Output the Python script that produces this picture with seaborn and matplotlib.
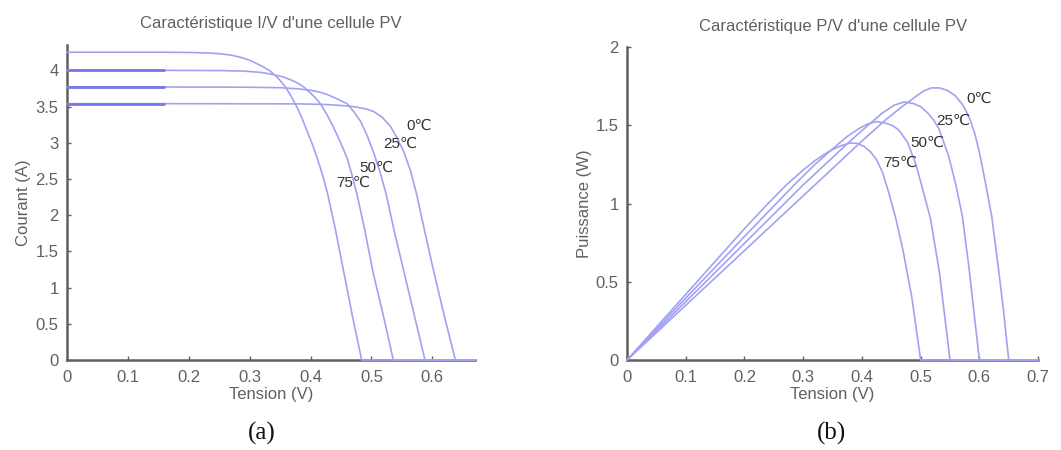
"""
Caracteristiques I/V et P/V d'une cellule PV pour 4 temperatures.
Valeurs relevees a la main sur la figure de reference.
"""

import matplotlib
matplotlib.use("Agg")
import matplotlib.pyplot as plt
import seaborn as sns

# ------------------------------------------------------------
# Donnees (a) : courant en fonction de la tension
# ------------------------------------------------------------
temperatures = ["0℃", "25℃", "50℃", "75℃"]

iv_v_0 = [0, 0.16, 0.38, 0.42, 0.45, 0.47, 0.48, 0.492, 0.504, 0.518, 0.531, 0.542, 0.553,
          0.564, 0.574, 0.587, 0.603, 0.62, 0.638, 0.67]
iv_i_0 = [3.54, 3.54, 3.537, 3.53, 3.515, 3.50, 3.485, 3.465, 3.43, 3.35, 3.23, 3.07, 2.88,
          2.62, 2.3, 1.8, 1.2, 0.6, 0, 0]

iv_v_25 = [0, 0.16, 0.30, 0.35, 0.38, 0.40, 0.415, 0.428, 0.44, 0.45, 0.46, 0.471, 0.482,
           0.493, 0.503, 0.514, 0.524, 0.537, 0.554, 0.571, 0.588, 0.67]
iv_i_25 = [3.77, 3.77, 3.767, 3.76, 3.745, 3.725, 3.70, 3.665, 3.62, 3.58, 3.54, 3.43, 3.30,
           3.10, 2.88, 2.6, 2.3, 1.8, 1.2, 0.6, 0, 0]

iv_v_50 = [0, 0.16, 0.25, 0.29, 0.32, 0.34, 0.355, 0.37, 0.38, 0.389, 0.398, 0.407, 0.416,
           0.427, 0.438, 0.449, 0.46, 0.468, 0.476, 0.489, 0.503, 0.52, 0.536, 0.67]
iv_i_50 = [4.0, 4.0, 3.997, 3.99, 3.97, 3.94, 3.91, 3.86, 3.82, 3.77, 3.70, 3.63, 3.54,
           3.39, 3.21, 3.01, 2.79, 2.56, 2.3, 1.8, 1.2, 0.6, 0, 0]

iv_v_75 = [0, 0.16, 0.20, 0.23, 0.25, 0.27, 0.285, 0.30, 0.31, 0.322, 0.334, 0.347, 0.359,
           0.367, 0.375, 0.385, 0.394, 0.403, 0.411, 0.420, 0.428, 0.441, 0.455, 0.469, 0.484, 0.67]
iv_i_75 = [4.25, 4.25, 4.247, 4.24, 4.23, 4.21, 4.18, 4.14, 4.1, 4.05, 3.99, 3.89, 3.77,
           3.66, 3.54, 3.36, 3.17, 2.98, 2.79, 2.55, 2.3, 1.8, 1.2, 0.6, 0, 0]

# position des etiquettes (tension, courant)
iv_lab_v = [0.578, 0.548, 0.509, 0.471]
iv_lab_i = [3.23, 2.98, 2.65, 2.45]

# ------------------------------------------------------------
# Donnees (b) : puissance en fonction de la tension
# ------------------------------------------------------------
pv_v_0 = [0, 0.1, 0.2, 0.3, 0.4, 0.44, 0.47, 0.49, 0.505, 0.518, 0.532, 0.545, 0.559, 0.571,
          0.582, 0.592, 0.6, 0.611, 0.621, 0.632, 0.641, 0.65, 0.7]
pv_p_0 = [0, 0.35, 0.70, 1.05, 1.40, 1.535, 1.625, 1.68, 1.72, 1.74, 1.74, 1.725, 1.69, 1.635,
          1.56, 1.45, 1.33, 1.12, 0.92, 0.6, 0.32, 0, 0]

pv_v_25 = [0, 0.1, 0.2, 0.3, 0.34, 0.38, 0.41, 0.435, 0.455, 0.472, 0.488, 0.5, 0.512, 0.522,
           0.531, 0.548, 0.56, 0.571, 0.582, 0.6, 0.7]
pv_p_25 = [0, 0.373, 0.746, 1.12, 1.26, 1.40, 1.50, 1.58, 1.63, 1.65, 1.64, 1.62, 1.58, 1.535,
           1.48, 1.3, 1.12, 0.92, 0.6, 0, 0]

pv_v_50 = [0, 0.1, 0.2, 0.25, 0.29, 0.32, 0.35, 0.375, 0.395, 0.41, 0.425, 0.44, 0.452, 0.463,
           0.478, 0.492, 0.505, 0.517, 0.532, 0.55, 0.7]
pv_p_50 = [0, 0.396, 0.79, 0.985, 1.14, 1.25, 1.35, 1.43, 1.48, 1.51, 1.525, 1.515, 1.50, 1.47,
           1.39, 1.25, 1.07, 0.9, 0.56, 0, 0]

pv_v_75 = [0, 0.1, 0.2, 0.24, 0.27, 0.30, 0.32, 0.34, 0.355, 0.368, 0.38, 0.392, 0.404, 0.415,
           0.425, 0.435, 0.445, 0.458, 0.47, 0.485, 0.5, 0.7]
pv_p_75 = [0, 0.42, 0.84, 1.0, 1.115, 1.215, 1.275, 1.325, 1.355, 1.375, 1.388, 1.385, 1.365,
           1.33, 1.28, 1.2, 1.08, 0.9, 0.7, 0.4, 0, 0]

pv_lab_v = [0.599, 0.556, 0.511, 0.466]
pv_lab_p = [1.67, 1.53, 1.39, 1.26]

# ------------------------------------------------------------
# Style
# ------------------------------------------------------------
sns.set_theme(style="ticks")
plt.rcParams["font.family"] = ["Liberation Sans", "DejaVu Sans"]
LINE = "#a2a2f2"
GRIS = "#606060"


def habiller(ax, xlim, ylim, xticks, yticks, titre, ylabel):
    ax.set_xlim(*xlim)
    ax.set_ylim(*ylim)
    ax.set_xticks(xticks)
    ax.set_yticks(yticks)
    ax.set_xticklabels([f"{t:g}" for t in xticks])
    ax.set_yticklabels([f"{t:g}" for t in yticks])
    sns.despine(ax=ax)
    for s in ["left", "bottom"]:
        ax.spines[s].set_color(GRIS)
        ax.spines[s].set_linewidth(1.8)
    ax.tick_params(direction="in", length=3, width=1, colors=GRIS,
                   labelsize=12, labelcolor=GRIS)
    ax.tick_params(axis="x", pad=7)
    ax.tick_params(axis="y", pad=6)
    ax.set_title(titre, fontsize=12, color=GRIS, pad=12)
    ax.set_xlabel("Tension (V)", fontsize=12, color=GRIS, labelpad=2)
    ax.set_ylabel(ylabel, fontsize=12, color=GRIS, labelpad=3)


fig = plt.figure(figsize=(10.61, 4.5), dpi=100)
ax1 = fig.add_axes([0.0631, 0.2, 0.3845, 0.7])
ax2 = fig.add_axes([0.591, 0.2, 0.3874, 0.695])

# (a) I/V
courbes_iv = [(iv_v_0, iv_i_0), (iv_v_25, iv_i_25), (iv_v_50, iv_i_50), (iv_v_75, iv_i_75)]
for k, (v, i) in enumerate(courbes_iv):
    sns.lineplot(x=v, y=i, ax=ax1, color=LINE, linewidth=1.2, sort=False,
                 estimator=None, clip_on=False, zorder=3)
    if k < 3:
        # segments initiaux plus sombres (traces superposes dans l'original)
        sns.lineplot(x=v[:2], y=i[:2], ax=ax1, color="#7878e8", linewidth=2.0,
                     sort=False, estimator=None, zorder=3)
for t, x, y in zip(temperatures, iv_lab_v, iv_lab_i):
    ax1.text(x, y, t, fontsize=11, color="#333333", ha="center", va="center")
habiller(ax1, (0, 0.67), (0, 4.35), [0, 0.1, 0.2, 0.3, 0.4, 0.5, 0.6],
         [0, 0.5, 1, 1.5, 2, 2.5, 3, 3.5, 4],
         "Caractéristique I/V d'une cellule PV", "Courant (A)")

# (b) P/V
courbes_pv = [(pv_v_0, pv_p_0), (pv_v_25, pv_p_25), (pv_v_50, pv_p_50), (pv_v_75, pv_p_75)]
for v, p in courbes_pv:
    sns.lineplot(x=v, y=p, ax=ax2, color=LINE, linewidth=1.2, sort=False,
                 estimator=None, clip_on=False, zorder=3)
for t, x, y in zip(temperatures, pv_lab_v, pv_lab_p):
    ax2.text(x, y, t, fontsize=11, color="#333333", ha="center", va="center")
habiller(ax2, (0, 0.7), (0, 2), [0, 0.1, 0.2, 0.3, 0.4, 0.5, 0.6, 0.7],
         [0, 0.5, 1, 1.5, 2],
         "Caractéristique P/V d'une cellule PV", "Puissance (W)")

# legendes (a) et (b)
fig.text(262 / 1061, 1 - 433 / 450, "(a)", fontsize=18, ha="center", va="center",
         family=["Liberation Serif", "DejaVu Serif"], color="#111111")
fig.text(832 / 1061, 1 - 433 / 450, "(b)", fontsize=18, ha="center", va="center",
         family=["Liberation Serif", "DejaVu Serif"], color="#111111")

fig.savefig("out.png", dpi=100)
plt.close(fig)
